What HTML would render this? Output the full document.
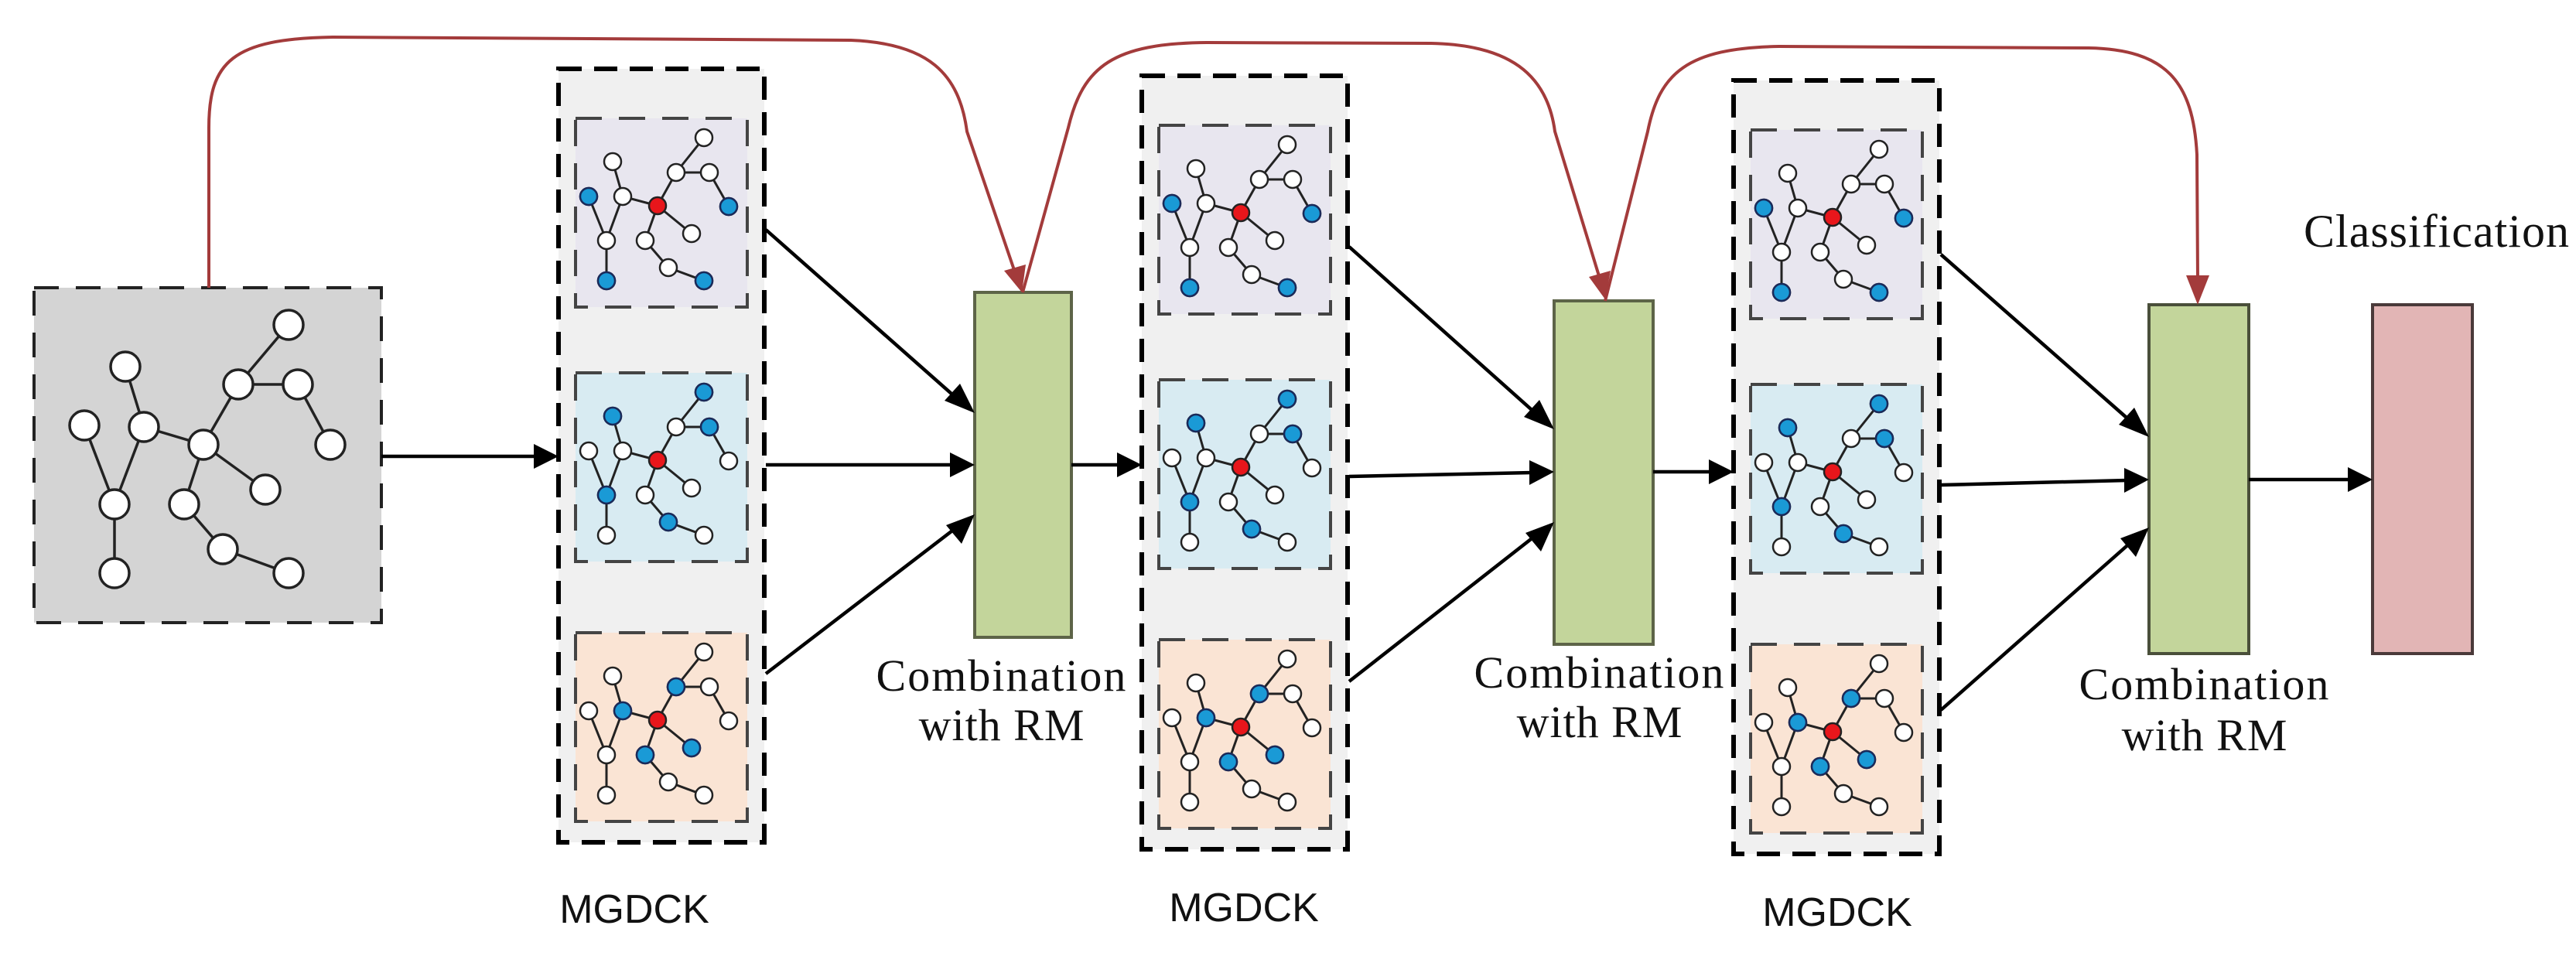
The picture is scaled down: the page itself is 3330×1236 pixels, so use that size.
<!DOCTYPE html>
<html><head><meta charset="utf-8"><style>
html,body{margin:0;padding:0;background:#fff;}
svg{display:block;}
.serif{font-family:"Liberation Serif",serif;fill:#111;}
.sans{font-family:"Liberation Sans",sans-serif;fill:#111;}
</style></head><body>
<svg width="3330" height="1236" viewBox="0 0 3330 1236" xmlns="http://www.w3.org/2000/svg">
<defs>
<g id="sg">
  <g stroke="#222" stroke-width="3" fill="none">
    <line x1="48" y1="56" x2="61" y2="101"/>
    <line x1="17" y1="101" x2="40" y2="158"/>
    <line x1="61" y1="101" x2="40" y2="158"/>
    <line x1="40" y1="158" x2="40" y2="210"/>
    <line x1="61" y1="101" x2="106" y2="113"/>
    <line x1="106" y1="113" x2="130" y2="70"/>
    <line x1="130" y1="70" x2="166" y2="25"/>
    <line x1="130" y1="70" x2="173" y2="70"/>
    <line x1="173" y1="70" x2="198" y2="114"/>
    <line x1="106" y1="113" x2="150" y2="149"/>
    <line x1="106" y1="113" x2="90" y2="158"/>
    <line x1="90" y1="158" x2="120" y2="193"/>
    <line x1="120" y1="193" x2="166" y2="210"/>
  </g>
  <g fill="#fff" stroke="#222" stroke-width="2.5">
    <circle cx="166" cy="25" r="11"/><circle cx="48" cy="56" r="11"/><circle cx="130" cy="70" r="11"/>
    <circle cx="173" cy="70" r="11"/><circle cx="17" cy="101" r="11"/><circle cx="61" cy="101" r="11"/>
    <circle cx="198" cy="114" r="11"/><circle cx="150" cy="149" r="11"/><circle cx="40" cy="158" r="11"/>
    <circle cx="90" cy="158" r="11"/><circle cx="120" cy="193" r="11"/><circle cx="40" cy="210" r="11"/>
    <circle cx="166" cy="210" r="11"/>
    <circle cx="106" cy="113" r="11" fill="#e8161b"/>
  </g>
</g>
<g id="b1" fill="#1a9ad6" stroke="#1a2a5a" stroke-width="2.5">
  <circle cx="17" cy="101" r="11"/><circle cx="198" cy="114" r="11"/><circle cx="40" cy="210" r="11"/><circle cx="166" cy="210" r="11"/>
</g>
<g id="b2" fill="#1a9ad6" stroke="#1a2a5a" stroke-width="2.5">
  <circle cx="166" cy="25" r="11"/><circle cx="48" cy="56" r="11"/><circle cx="173" cy="70" r="11"/><circle cx="40" cy="158" r="11"/><circle cx="120" cy="193" r="11"/>
</g>
<g id="b3" fill="#1a9ad6" stroke="#1a2a5a" stroke-width="2.5">
  <circle cx="130" cy="70" r="11"/><circle cx="61" cy="101" r="11"/><circle cx="90" cy="158" r="11"/><circle cx="150" cy="149" r="11"/>
</g>
<g id="col">
  <rect x="0" y="0" width="266" height="1000" fill="#f0f0f0" stroke="#000" stroke-width="6" stroke-dasharray="30 16"/>
  <rect x="22" y="64" width="222" height="244" fill="#e8e6ef" stroke="#444" stroke-width="4" stroke-dasharray="34 22"/>
  <rect x="22" y="393" width="222" height="244" fill="#d8ebf2" stroke="#444" stroke-width="4" stroke-dasharray="34 22"/>
  <rect x="22" y="729" width="222" height="244" fill="#fae4d4" stroke="#444" stroke-width="4" stroke-dasharray="34 22"/>
  <use href="#sg" x="22" y="64"/><use href="#b1" x="22" y="64"/>
  <use href="#sg" x="22" y="393"/><use href="#b2" x="22" y="393"/>
  <use href="#sg" x="22" y="729"/><use href="#b3" x="22" y="729"/>
</g>
</defs>

<rect x="44" y="372" width="449" height="433" fill="#d4d4d4" stroke="#222" stroke-width="4" stroke-dasharray="32 22"/>
<g stroke="#222" stroke-width="3.5">
  <line x1="162" y1="474" x2="186" y2="552"/><line x1="109" y1="550" x2="148" y2="652"/>
  <line x1="186" y1="552" x2="148" y2="652"/><line x1="148" y1="652" x2="148" y2="741"/>
  <line x1="186" y1="552" x2="263" y2="575"/><line x1="263" y1="575" x2="308" y2="497"/>
  <line x1="308" y1="497" x2="373" y2="420"/><line x1="308" y1="497" x2="385" y2="497"/>
  <line x1="385" y1="497" x2="427" y2="575"/><line x1="263" y1="575" x2="343" y2="633"/>
  <line x1="263" y1="575" x2="238" y2="652"/><line x1="238" y1="652" x2="288" y2="710"/>
  <line x1="288" y1="710" x2="373" y2="741"/>
</g>
<g fill="#fff" stroke="#222" stroke-width="3.5">
  <circle cx="373" cy="420" r="19"/><circle cx="162" cy="474" r="19"/><circle cx="308" cy="497" r="19"/>
  <circle cx="385" cy="497" r="19"/><circle cx="109" cy="550" r="19"/><circle cx="186" cy="552" r="19"/>
  <circle cx="263" cy="575" r="19"/><circle cx="427" cy="575" r="19"/><circle cx="343" cy="633" r="19"/>
  <circle cx="148" cy="652" r="19"/><circle cx="238" cy="652" r="19"/><circle cx="288" cy="710" r="19"/>
  <circle cx="148" cy="741" r="19"/><circle cx="373" cy="741" r="19"/>
</g>

<use href="#col" x="722" y="89"/>
<use href="#col" x="1476" y="98"/>
<use href="#col" x="2241" y="104"/>

<rect x="1260" y="378" width="125" height="446" fill="#c3d59b" stroke="#5d6448" stroke-width="4"/>
<rect x="2009" y="389" width="128" height="444" fill="#c3d59b" stroke="#5d6448" stroke-width="4"/>
<rect x="2778" y="394" width="129" height="451" fill="#c3d59b" stroke="#4a4f3a" stroke-width="4"/>
<rect x="3067" y="394" width="129" height="451" fill="#e2b5b5" stroke="#4a3a3a" stroke-width="4"/>

<g stroke="#000" stroke-width="4.5" fill="none">
  <line x1="493" y1="590" x2="695" y2="590"/>
  <line x1="990" y1="297" x2="1239" y2="517"/>
  <line x1="990" y1="601" x2="1232" y2="601"/>
  <line x1="990" y1="871" x2="1239" y2="680"/>
  <line x1="1385" y1="601" x2="1448" y2="601"/>
  <line x1="1744" y1="319" x2="1988" y2="537"/>
  <line x1="1744" y1="616" x2="1981" y2="611"/>
  <line x1="1744" y1="881" x2="1988" y2="690"/>
  <line x1="2137" y1="610" x2="2215" y2="610"/>
  <line x1="2509" y1="329" x2="2757" y2="547"/>
  <line x1="2509" y1="627" x2="2750" y2="621"/>
  <line x1="2509" y1="918" x2="2757" y2="699"/>
  <line x1="2907" y1="620" x2="3040" y2="620"/>
</g>
<g fill="#000">
  <polygon points="722,590 690,574 690,606"/>
  <polygon points="1260,534 1221,518 1241,496"/>
  <polygon points="1260,601 1228,585 1228,617"/>
  <polygon points="1260,665 1243,703 1223,679"/>
  <polygon points="1476,601 1444,585 1444,617"/>
  <polygon points="2009,555 1970,539 1990,517"/>
  <polygon points="2009,610 1977,595 1977,627"/>
  <polygon points="2009,675 1992,713 1972,689"/>
  <polygon points="2241,610 2209,594 2209,626"/>
  <polygon points="2778,565 2739,549 2759,527"/>
  <polygon points="2778,620 2746,605 2746,637"/>
  <polygon points="2778,682 2761,720 2741,696"/>
  <polygon points="3067,620 3035,604 3035,636"/>
</g>

<g stroke="#a33b3b" stroke-width="4" fill="none">
  <path d="M270,372 L270,165 C270,80 300,50 430,48 L1100,52 C1200,56 1240,95 1250,170 L1312,352"/>
  <path d="M1322,378 L1381,165 C1400,85 1440,56 1560,55 L1850,56 C1950,58 2000,95 2010,170 L2068,360"/>
  <path d="M2075,389 L2130,170 C2145,95 2180,62 2300,60 L2700,62 C2800,64 2835,105 2840,200 L2841,362"/>
</g>
<g fill="#a33b3b">
  <polygon points="1321,378 1298,350 1326,342"/>
  <polygon points="2075,387 2054,358 2082,350"/>
  <polygon points="2841,394 2826,356 2856,356"/>
</g>

<text class="serif" x="1295" y="893" font-size="58" letter-spacing="2" text-anchor="middle">Combination</text>
<text class="serif" x="1295" y="957" font-size="58" letter-spacing="1" text-anchor="middle">with RM</text>
<text class="serif" x="2068" y="889" font-size="58" letter-spacing="2" text-anchor="middle">Combination</text>
<text class="serif" x="2068" y="953" font-size="58" letter-spacing="1" text-anchor="middle">with RM</text>
<text class="serif" x="2850" y="904" font-size="58" letter-spacing="2" text-anchor="middle">Combination</text>
<text class="serif" x="2850" y="970" font-size="58" letter-spacing="1" text-anchor="middle">with RM</text>
<text class="serif" x="2978" y="319" font-size="60" letter-spacing="1">Classification</text>
<text class="sans" x="820" y="1193" font-size="52" text-anchor="middle">MGDCK</text>
<text class="sans" x="1608" y="1191" font-size="52" text-anchor="middle">MGDCK</text>
<text class="sans" x="2375" y="1197" font-size="52" text-anchor="middle">MGDCK</text>
</svg>
</body></html>
